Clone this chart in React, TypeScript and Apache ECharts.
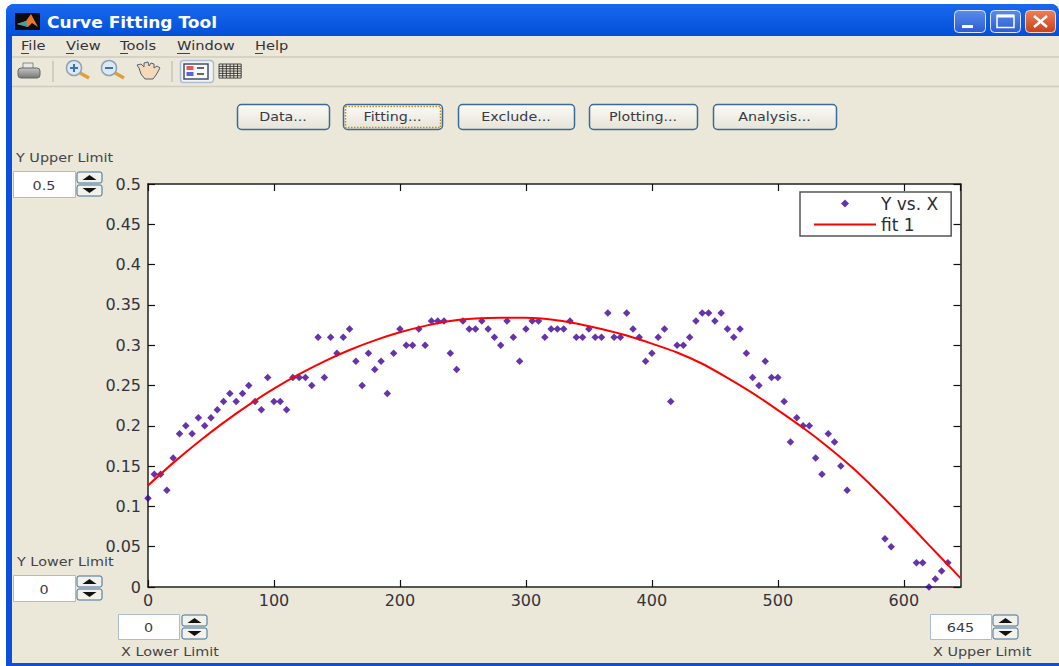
import React, { useEffect, useRef } from "react";
import * as echarts from "echarts";

const scatterX = [0,5,10,15,20,25,30,35,40,45,50,55,60,65,70,75,80,85,90,95,100,105,110,115,120,125,130,135,140,145,150,155,160,165,170,175,180,185,190,195,200,205,210,215,220,225,230,235,240,245,250,255,260,265,270,275,280,285,290,295,300,305,310,315,320,325,330,335,340,345,350,355,360,365,370,375,380,385,390,395,400,405,410,415,420,425,430,435,440,445,450,455,460,465,470,475,480,485,490,495,500,505,510,515,520,525,530,535,540,545,550,555,585,590,610,615,620,625,630,635];
const scatterY = [.11,.14,.14,.12,.16,.19,.2,.19,.21,.2,.21,.22,.23,.24,.23,.24,.25,.23,.22,.26,.23,.23,.22,.26,.26,.26,.25,.31,.26,.31,.29,.31,.32,.28,.25,.29,.27,.28,.24,.29,.32,.3,.3,.32,.3,.33,.33,.33,.29,.27,.33,.32,.32,.33,.32,.31,.3,.33,.31,.28,.32,.33,.33,.31,.32,.32,.32,.33,.31,.31,.32,.31,.31,.34,.31,.31,.34,.32,.31,.28,.29,.31,.32,.23,.3,.3,.31,.33,.34,.34,.33,.34,.32,.31,.32,.29,.26,.25,.28,.26,.26,.23,.18,.21,.2,.2,.16,.14,.19,.18,.15,.12,.06,.05,.03,.03,0,.01,.02,.03];
const fitX = [0,20,40,60,80,100,120,140,160,180,200,220,240,260,280,300,320,340,360,380,400,420,440,460,480,500,520,540,560,580,600,620,635,645];
const fitY = [.126,.154,.18,.204,.226,.246,.264,.28,.294,.306,.316,.324,.33,.333,.334,.334,.332,.327,.32,.312,.302,.291,.277,.2595,.2405,.2195,.1975,.1735,.147,.117,.085,.052,.0275,.011];
const menuItems = ["File", "View", "Tools", "Window", "Help"];
const menuLeft = [21, 66, 120, 177, 255];
const buttonLabels = ["Data...", "Fitting...", "Exclude...", "Plotting...", "Analysis..."];
const buttonSpans = [[237, 329], [343, 442], [458, 574], [589, 697], [713, 836]];
const yTickFormat = (v: number) => String(v);

const FACE = "#ebe8d9";
const UI = '"DejaVu Sans", sans-serif';
const v = (a: string, b: string) => new echarts.graphic.LinearGradient(0, 0, 0, 1, [{ offset: 0, color: a }, { offset: 1, color: b }]);
const rect = (x: number, y: number, w: number, h: number, fill: any, stroke?: string, r: any = 0, lw = 1, extra: any = {}) => ({
  type: "rect", silent: true, shape: { x, y, width: w, height: h, r }, style: { fill, stroke: stroke ?? null, lineWidth: lw, ...extra },
});
const line = (x1: number, y1: number, x2: number, y2: number, stroke: string, lineWidth = 1, extra: any = {}) => ({
  type: "line", silent: true, shape: { x1, y1, x2, y2 }, style: { stroke, lineWidth, ...extra },
});
const poly = (points: number[][], fill: string, stroke?: string) => ({ type: "polygon", silent: true, shape: { points }, style: { fill, stroke: stroke ?? null } });
const text = (x: number, y: number, t: string, size: number, fill = "#3a3a40", align = "left", stretch = 1, extra: any = {}) => ({
  type: "text", silent: true, x, y, scaleX: stretch, style: { text: t, fontSize: size, fontFamily: UI, fill, align, verticalAlign: "middle", ...extra },
});

function spinner(x: number, y: number, w = 25) {
  const h = 11, c = x + w / 2;
  return [
    rect(x, y, w, h, "#f3f2ea", "#3f6f9f", 2),
    poly([[c - 7, y + 8], [c + 7, y + 8], [c, y + 3]], "#111"),
    rect(x, y + 13, w, h, "#f3f2ea", "#3f6f9f", 2),
    poly([[c - 7, y + 16], [c + 7, y + 16], [c, y + 21]], "#111"),
  ];
}
function field(x: number, y: number, w: number, h: number, val: string) {
  return [rect(x + 0.5, y + 0.5, w, h, "#fff", "#a9bdd0"), text(x + w / 2, y + h / 2 + 1, val, 12.5, "#3a3a44", "center", 1.15)];
}
function magnifier(cx: number, cy: number, sign: "+" | "-") {
  const out: any[] = [
    line(cx + 6, cy + 5, cx + 15, cy + 10, "#dca040", 3.5),
    { type: "circle", silent: true, shape: { cx, cy, r: 7.5 }, style: { fill: "#dbe8f5", stroke: "#8fa0b2", lineWidth: 1.5 } },
    line(cx - 4, cy, cx + 4, cy, "#3a72b8", 2),
  ];
  if (sign === "+") out.push(line(cx, cy - 4, cx, cy + 4, "#3a72b8", 2));
  return out;
}

function chrome() {
  const els: any[] = [];
  els.push(rect(0, 0, 1059, 666, "#fff"));
  els.push(rect(6, 4, 1053, 662, "#0a50dc", undefined, [8, 8, 0, 0]));
  els.push(rect(12, 36, 1047, 627, FACE));
  els.push(rect(6, 4, 1053, 32, v("#1868ee", "#0350d8"), undefined, [8, 8, 0, 0]));
  els.push(rect(15, 13, 25, 17, "#0c0c10"));
  els.push(poly([[17, 24], [26, 21], [31, 14], [38, 27], [32, 23], [28, 27]], "#e8782a"));
  els.push(poly([[17, 24], [26, 21], [28, 27]], "#3fa0a8"));
  els.push(text(47, 23, "Curve Fitting Tool", 15.5, "#ffffff", "left", 1.1, { fontWeight: "bold" }));

  els.push(rect(954.5, 10.5, 31, 22, v("#5a8cec", "#2c5cd0"), "#dbe6fa", 4));
  els.push(rect(962, 25, 11, 3, "#fff"));
  els.push(rect(990.5, 10.5, 30, 22, v("#5a8cec", "#2c5cd0"), "#dbe6fa", 4));
  els.push(rect(997, 15.5, 17, 12, "none", "#fff", 0, 1.5));
  els.push(line(997, 16, 1014, 16, "#fff", 3));
  els.push(rect(1025.5, 10.5, 30, 22, v("#ee8058", "#c8401c"), "#f5d8cc", 4));
  els.push(line(1034, 16, 1047, 27, "#fff", 2.5));
  els.push(line(1047, 16, 1034, 27, "#fff", 2.5));

  menuItems.forEach((m, i) => {
    els.push(text(menuLeft[i], 45.5, m, 12.5, "#333338", "left", 1.17));
    const w = m[0] === "W" ? 13 : 8;
    els.push(line(menuLeft[i], 53.5, menuLeft[i] + w, 53.5, "#444", 1));
  });
  els.push(line(12, 57, 1059, 57, "#cfccbd", 1.5));
  els.push(line(12, 86.5, 1059, 86.5, "#cfccbd", 1.5));

  // toolbar
  els.push(rect(23, 63, 10, 6, "#e8e8e8", "#888"));
  els.push(rect(18, 68, 22, 10, v("#c4c4c4", "#777"), "#666", 3));
  els.push(line(53, 61, 53, 82, "#c8c5b6", 1.5));
  els.push(...magnifier(74, 68, "+"));
  els.push(...magnifier(109, 68, "-"));
  els.push(poly([[139, 68], [137, 65], [141, 64], [144, 67], [144, 63], [148, 62], [149, 66], [151, 63], [154, 64], [154, 68], [157, 66], [160, 68], [156, 75], [153, 79], [145, 79], [141, 74]], "#f6d9b8", "#50607a"));
  els.push(line(172, 61, 172, 82, "#c8c5b6", 1.5));
  els.push(rect(180.5, 60.5, 33, 22, "#f4f3ec", "#a9bdd8", 3, 1.5));
  els.push(rect(184, 64, 24, 15, "#f8f8f6", "#44506e", 0, 1.5));
  els.push(rect(186.5, 66, 7, 4, "#e05a60"));
  els.push(rect(186.5, 72, 7, 4, "#5a62d8"));
  els.push(line(197, 68, 204, 68, "#333", 1.5));
  els.push(line(197, 74, 204, 74, "#333", 1.5));
  for (let i = 0; i <= 6; i++) {
    els.push(line(219 + i * 3.7, 64, 219 + i * 3.7, 78, "#222", 0.8));
    els.push(line(219, 64 + i * 2.35, 241.2, 64 + i * 2.35, "#222", 0.8));
  }

  // action buttons
  buttonLabels.forEach((b, i) => {
    const [a, e] = buttonSpans[i];
    els.push(rect(a + 0.5, 104.5, e - a, 25, v("#fbfbf8", "#e6e3d6"), "#3b6a98", 4, 1.5));
    if (i === 1) els.push(rect(a + 2.5, 106.5, e - a - 4, 21, "none", "#c98a10", 0, 1.5, { lineDash: [1.5, 1.5] }));
    els.push(text((a + e) / 2, 116, b, 13, "#3a3a44", "center", 1.1));
  });

  // limit controls
  els.push(text(16, 158, "Y Upper Limit", 12, "#44444a", "left", 1.2));
  els.push(...field(13, 171, 62, 26, "0.5"), ...spinner(77, 172));
  els.push(text(17, 562, "Y Lower Limit", 12, "#44444a", "left", 1.2));
  els.push(...field(13, 575, 62, 26, "0"), ...spinner(77, 576));
  els.push(...field(118, 614, 61, 25, "0"), ...spinner(182, 615));
  els.push(text(121, 652, "X Lower Limit", 12, "#44444a", "left", 1.2));
  els.push(...field(930, 614, 61, 25, "645"), ...spinner(993, 615));
  els.push(text(933, 652, "X Upper Limit", 12, "#44444a", "left", 1.2));

  els.push(rect(148, 184, 812.5, 403, "#fff"));
  return els;
}

export default function App() {
  const ref = useRef<HTMLDivElement>(null);
  useEffect(() => {
    document.body.style.margin = "0";
    const chart = echarts.init(ref.current!, null, { renderer: "svg" });
    const axisLine = { show: true, onZero: false, lineStyle: { color: "#222", width: 1.5 } };
    const tick = { show: true, inside: true, length: 7, lineStyle: { color: "#111", width: 1.2 } };
    const label = { color: "#33333e", fontSize: 16, fontFamily: UI };
    chart.setOption({
      animation: false,
      backgroundColor: "#fff",
      graphic: { elements: chrome().map((e) => ({ ...e, z: -10 })) },
      grid: { left: 148, top: 184, width: 812.5, height: 403, containLabel: false },
      legend: {
        show: true,
        orient: "vertical",
        left: 800,
        top: 192,
        backgroundColor: "#fff",
        borderColor: "#555",
        borderWidth: 1.5,
        borderRadius: 0,
        padding: [3, 13, 3, 14],
        itemGap: 4,
        itemWidth: 62,
        itemHeight: 8,
        textStyle: { fontFamily: UI, fontSize: 17, color: "#2c2c38" },
        data: [
          { name: "Y vs. X", icon: "path://M0 5L5 0L10 5L5 10Z" },
          { name: "fit 1", icon: "path://M0 0H62V2H0Z" },
        ],
      },
      xAxis: [
        { type: "value", min: 0, max: 645, interval: 100, axisLine, axisTick: tick, splitLine: { show: false }, axisLabel: { ...label, margin: 5, showMaxLabel: false } },
        { type: "value", position: "top", min: 0, max: 645, interval: 100, axisLine, axisTick: tick, splitLine: { show: false }, axisLabel: { show: false } },
      ],
      yAxis: [
        { type: "value", min: 0, max: 0.5, interval: 0.05, axisLine, axisTick: tick, splitLine: { show: false }, axisLabel: { ...label, margin: 7, formatter: yTickFormat } },
        { type: "value", position: "right", min: 0, max: 0.5, interval: 0.05, axisLine, axisTick: tick, splitLine: { show: false }, axisLabel: { show: false } },
      ],
      series: [
        { name: "Y vs. X", type: "scatter", clip: false, symbol: "diamond", symbolSize: 7.5, itemStyle: { color: "#3f0096" }, data: scatterX.map((x, i) => [x, scatterY[i]]) },
        { name: "fit 1", type: "line", smooth: 0.2, symbol: "none", lineStyle: { color: "#ff0000", width: 2 }, itemStyle: { color: "#ff0000" }, data: fitX.map((x, i) => [x, fitY[i]]), z: 3 },
      ],
    });
    return () => chart.dispose();
  }, []);
  return <div ref={ref} style={{ width: 1059, height: 666 }} />;
}
